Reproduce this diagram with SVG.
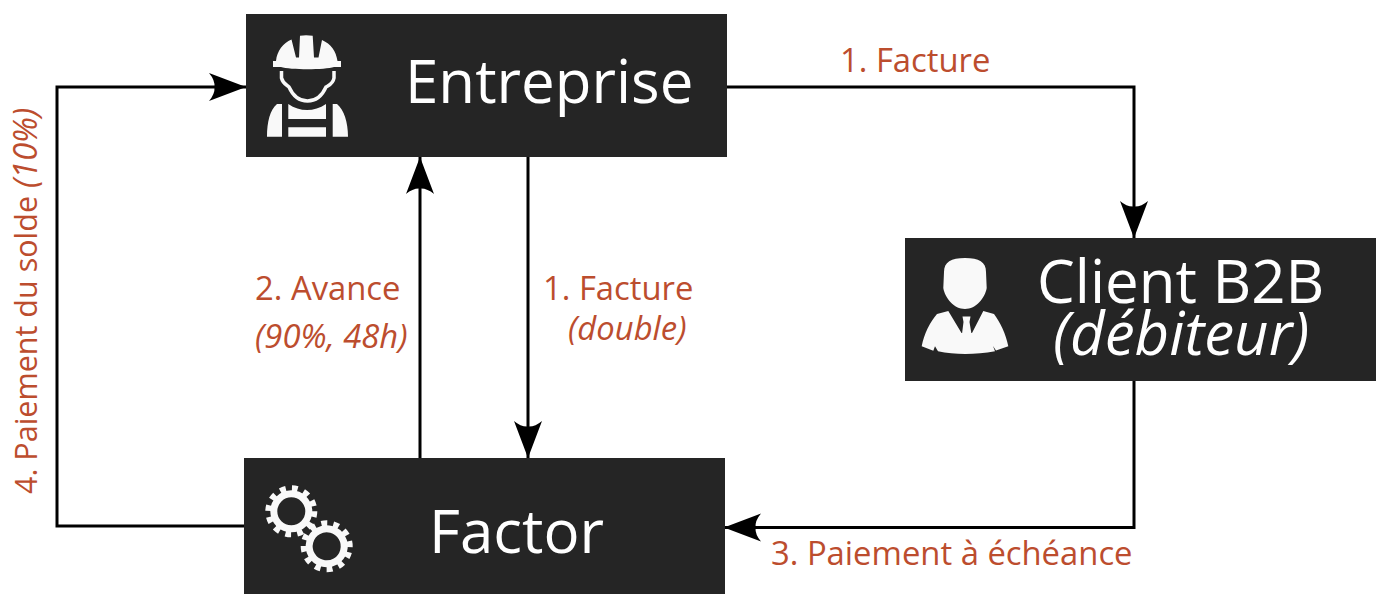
<svg xmlns="http://www.w3.org/2000/svg" width="1376" height="594" viewBox="0 0 1376 594">
<style>
.box{fill:#252525}
.ico{fill:#f9f9f9}
.t{font-family:"Open Sans",sans-serif;fill:#fff;font-size:60px}
.l{font-family:"Open Sans",sans-serif;fill:#bc4d2e;font-size:32.8px}
.r{font-size:30.5px}
.i{font-style:italic}
.r .i{font-size:32.6px}
.c{fill:none;stroke:#000;stroke-width:3;marker-end:url(#a)}
</style>
<defs>
<marker id="a" markerUnits="userSpaceOnUse" markerWidth="40" markerHeight="32" refX="37" refY="16" orient="auto">
<path d="M37,16L0,2Q6,9 5.500,16Q6,23 0,30Z" fill="#000"/>
</marker>
<g id="gear">
<circle r="17.500" fill="none" stroke="#f9f9f9" stroke-width="7"/>
<circle r="23" fill="none" stroke="#f9f9f9" stroke-width="6" stroke-dasharray="5.800 6.240"/>
</g>
</defs>
<rect width="1376" height="594" fill="#fff"/>
<g id="connectors">
<path class="c" d="M727,87H1134V238"/>
<path class="c" d="M244,526H57V87H246"/>
<path class="c" d="M420,458V157"/>
<path class="c" d="M528,157V458"/>
<path class="c" d="M1134,381V527.500H724"/>
</g>
<g id="entreprise">
<rect class="box" x="246" y="14" width="481" height="143"/>
<path class="ico" d="M273,61V67H281C290,70 325,70 334,67H341V61H337.500C336,51 331,44 322,40L318.500,57.500H314L312.700,35.700C308,35 304,35 300,35.700L299,57.500H296L291.500,39.500C283,43 277,51 276,61Z"/>
<path d="M281.500,71V78C283,84 287,85 289,87C293,96 300,101 307.500,101C315,101 322,96 326,87C329,85 333,84 334,78V71" fill="none" stroke="#f9f9f9" stroke-width="3.500"/>
<path class="ico" d="M277,104H282V136.700H267C267,122 270,110 277,104ZM288.300,104C300,112 314,112 326,104V119H288.300ZM288.300,127.300H326V136.700H288.300ZM332.700,104H337C344,110 348,122 348,136.700H332.700Z"/>
<text class="t" x="405" y="103">Entreprise</text>
</g>
<g id="client">
<rect class="box" x="905" y="238" width="471" height="143"/>
<path class="ico" d="M965,258C979,258 986,262 986,272L986.700,288C985,298 976,309 965,309C954,309 945,298 943.300,288L944,272C944,262 951,258 965,258Z"/>
<path class="ico" d="M948.300,311L961.500,333H972L983.300,311L994,314C1000,322 1006,334 1008.300,346.300L996,350.500L993,346L995,351.300C975,355 955,355 938,351.300L935,346.300L933.300,350.700L921.700,346.300C924,334 930,322 937,314Z"/>
<path class="ico" d="M962.500,316.500H970.500L969.500,322L971.500,334H962L963.500,322Z"/>
<text class="t" x="1037" y="303">Client B2B</text>
<text class="t i" x="1053" y="355">(débiteur)</text>
</g>
<g id="factor">
<rect class="box" x="244" y="458" width="481" height="136"/>
<use href="#gear" x="291.300" y="511.300"/>
<use href="#gear" x="326.700" y="546.300" transform="rotate(15 326.700 546.300)"/>
<text class="t" x="429" y="553">Factor</text>
</g>
<g id="labels">
<text class="l" x="840" y="72">1. Facture</text>
<text class="l" x="255" y="300">2. Avance</text>
<text class="l i" x="255" y="348">(90%, 48h)</text>
<text class="l" x="543" y="300">1. Facture</text>
<text class="l i" x="568" y="340">(double)</text>
<text class="l" x="771" y="565">3. Paiement à échéance</text>
<text class="l r" transform="translate(37,494) rotate(-90)">4. Paiement du solde <tspan class="i">(10%)</tspan></text>
</g>
</svg>
